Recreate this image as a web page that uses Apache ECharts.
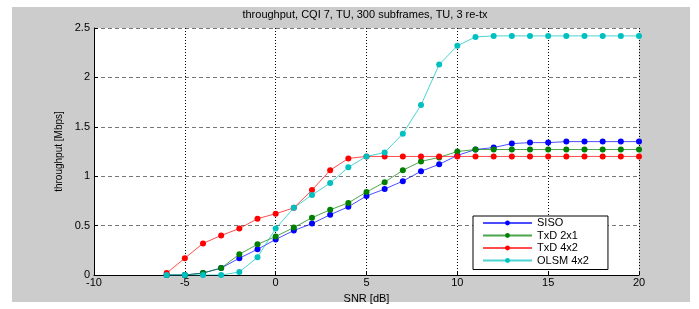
<!DOCTYPE html>
<html>
<head>
<meta charset="utf-8">
<script src="https://cdn.jsdelivr.net/npm/echarts@6/dist/echarts.min.js"></script>
<style>
  html, body { margin: 0; padding: 0; background: #fff; }
  #main { width: 699px; height: 309px; }
</style>
</head>
<body>
<div id="main"></div>
<script>
var snr = [-6, -5, -4, -3, -2, -1, 0, 1, 2, 3, 4, 5, 6, 7, 8, 9, 10, 11, 12, 13, 14, 15, 16, 17, 18, 19, 20];
var siso = [0, 0, 0.02, 0.07, 0.17, 0.26, 0.36, 0.45, 0.52, 0.61, 0.69, 0.80, 0.87, 0.95, 1.05, 1.12, 1.21, 1.27, 1.29, 1.33, 1.34, 1.34, 1.35, 1.35, 1.35, 1.35, 1.35];
var txd21 = [0, 0, 0.02, 0.07, 0.21, 0.31, 0.39, 0.48, 0.58, 0.66, 0.73, 0.84, 0.94, 1.06, 1.15, 1.19, 1.25, 1.27, 1.27, 1.27, 1.27, 1.27, 1.27, 1.27, 1.27, 1.27, 1.27];
var txd42 = [0.02, 0.17, 0.32, 0.40, 0.47, 0.57, 0.62, 0.68, 0.86, 1.06, 1.18, 1.20, 1.20, 1.20, 1.20, 1.20, 1.20, 1.20, 1.20, 1.20, 1.20, 1.20, 1.20, 1.20, 1.20, 1.20, 1.20];
var olsm = [0, 0, 0, 0, 0.03, 0.18, 0.47, 0.68, 0.81, 0.93, 1.09, 1.20, 1.24, 1.43, 1.72, 2.13, 2.32, 2.41, 2.42, 2.42, 2.42, 2.42, 2.42, 2.42, 2.42, 2.42, 2.42];

var names = ['SISO', 'TxD 2x1', 'TxD 4x2', 'OLSM 4x2'];
var colors = ['#0000ff', '#008000', '#ff0000', '#00c0c0'];
var values = [siso, txd21, txd42, olsm];

var font = 'Liberation Sans, Arial, sans-serif';
var chart = echarts.init(document.getElementById('main'));

// pair snr with each series
function pairs(v) {
    var out = [];
    for (var i = 0; i < snr.length; i++) {
        out.push([snr[i], v[i]]);
    }
    return out;
}

var series = [];
for (var k = 0; k < names.length; k++) {
    series.push({
        name: names[k],
        type: 'line',
        data: pairs(values[k]),
        symbol: 'circle',
        symbolSize: 6,
        itemStyle: { color: colors[k] },
        lineStyle: { color: colors[k], width: 1, opacity: 0.7 },
        animation: false
    });
}

chart.setOption({
    backgroundColor: '#ffffff',
    textStyle: { fontFamily: font },
    graphic: [{
        type: 'rect',
        z: -10,
        shape: { x: 12, y: 7, width: 678, height: 295 },
        style: { fill: '#cccccc' }
    }],
    title: {
        text: 'throughput, CQI 7, TU, 300 subframes, TU, 3 re-tx',
        left: 360,
        textAlign: 'center',
        top: 4,
        textStyle: { fontSize: 11, fontWeight: 'normal', color: '#000', fontFamily: font }
    },
    legend: {
        data: names,
        orient: 'vertical',
        left: 473,
        top: 216,
        padding: [1, 19, 3, 9],
        itemWidth: 49,
        itemHeight: 6,
        itemGap: 0.5,
        backgroundColor: '#ffffff',
        borderColor: '#000000',
        borderWidth: 1,
        borderRadius: 0,
        textStyle: { fontSize: 11, lineHeight: 12, color: '#000', fontFamily: font }
    },
    grid: {
        left: 94,
        right: 60,
        top: 28,
        bottom: 31,
        show: true,
        backgroundColor: '#ffffff',
        borderWidth: 0
    },
    xAxis: {
        type: 'value',
        min: -10,
        max: 20,
        interval: 5,
        name: 'SNR [dB]',
        nameLocation: 'middle',
        nameGap: 18,
        nameTextStyle: { fontSize: 11, color: '#000', fontFamily: font },
        axisLine: { onZero: false, lineStyle: { color: '#000', width: 1 } },
        axisTick: { inside: true, length: 4, lineStyle: { color: '#000' } },
        axisLabel: { fontSize: 11, color: '#000', margin: 2 },
        splitLine: { show: true, lineStyle: { color: '#000', type: [1, 2], width: 1 } }
    },
    yAxis: {
        type: 'value',
        min: 0,
        max: 2.5,
        interval: 0.5,
        name: 'throughput [Mbps]',
        nameLocation: 'middle',
        nameGap: 28,
        nameTextStyle: { fontSize: 10, color: '#000', fontFamily: font },
        axisLine: { show: true, onZero: false, lineStyle: { color: '#000', width: 1 } },
        axisTick: { show: true, inside: true, length: 4, lineStyle: { color: '#000' } },
        axisLabel: { fontSize: 11, color: '#000', margin: 4 },
        splitLine: { show: true, lineStyle: { color: '#777', type: [4, 3], width: 1 } }
    },
    series: series
});
</script>
</body>
</html>
